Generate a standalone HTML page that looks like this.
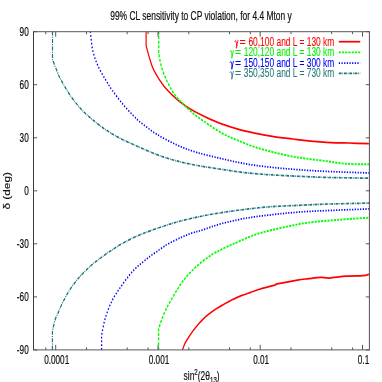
<!DOCTYPE html>
<html><head><meta charset="utf-8"><title>chart</title>
<style>html,body{margin:0;padding:0;background:#fff;}svg{display:block;will-change:transform;}</style></head>
<body>
<svg width="382" height="382" viewBox="0 0 382 382">
<rect width="382" height="382" fill="#fff"/>
<g transform="scale(0.70 1)" fill="none">
<path d="M208.71 31.5 L208.71 45.6 C209.62 47.9 212.24 55.2 214.14 59.4 C216.05 63.6 216.86 66.3 220.14 70.7 C223.43 75.1 228.57 81.1 233.86 85.8 C239.14 90.5 246.79 95.6 251.86 98.9 C256.93 102.2 259.81 103.2 264.29 105.4 C268.76 107.6 273.02 109.6 278.71 111.8 C284.40 114.0 292.14 116.6 298.43 118.6 C304.71 120.6 309.71 122.1 316.43 123.8 C323.14 125.5 330.81 127.3 338.71 128.9 C346.62 130.5 355.48 131.9 363.86 133.2 C372.24 134.4 380.02 135.4 389.00 136.4 C397.98 137.4 409.67 138.3 417.71 139.0 C425.76 139.7 428.05 140.1 437.29 140.7 C446.52 141.3 462.98 142.3 473.14 142.7 C483.31 143.1 489.31 142.8 498.29 143.0 C507.26 143.2 522.21 143.6 527.00 143.7" stroke="#ff0000" stroke-width="1.72"/>
<path d="M260.71 349.8 C261.24 348.8 262.60 345.8 263.86 343.9 C265.12 342.0 266.81 340.3 268.29 338.6 C269.76 336.9 270.98 335.5 272.71 333.8 C274.45 332.1 276.71 330.0 278.71 328.2 C280.71 326.4 282.71 324.7 284.71 323.1 C286.71 321.5 288.71 320.1 290.71 318.7 C292.71 317.3 294.71 316.1 296.71 315.0 C298.71 313.9 300.48 312.9 302.71 311.8 C304.95 310.7 307.64 309.4 310.14 308.3 C312.64 307.2 315.21 306.1 317.71 305.1 C320.21 304.1 322.67 303.1 325.14 302.2 C327.62 301.3 329.33 300.6 332.57 299.5 C335.81 298.4 340.48 296.8 344.57 295.7 C348.67 294.6 352.14 293.8 357.14 292.6 C362.14 291.4 368.67 289.6 374.57 288.4 C380.48 287.1 388.98 285.9 392.57 285.1 C396.17 284.4 390.76 284.7 396.14 283.9 C401.52 283.1 417.31 281.0 424.86 280.1 C432.40 279.2 435.83 279.1 441.43 278.6 C447.02 278.1 453.60 277.4 458.43 277.3 C463.26 277.2 464.43 278.3 470.43 278.1 C476.43 277.9 486.45 276.6 494.43 276.2 C502.40 275.8 512.86 275.9 518.29 275.6 C523.71 275.3 525.55 274.5 527.00 274.3" stroke="#ff0000" stroke-width="1.72"/>
<path d="M226.71 31.5 L226.71 53.1 C227.31 55.2 228.50 61.3 230.29 65.7 C232.07 70.1 234.43 74.9 237.43 79.5 C240.43 84.1 244.40 89.3 248.29 93.3 C252.17 97.3 256.55 100.3 260.71 103.4 C264.88 106.5 268.19 108.8 273.29 111.8 C278.38 114.8 284.05 117.9 291.29 121.4 C298.52 124.9 308.81 129.9 316.71 133.0 C324.62 136.1 330.86 137.9 338.71 140.2 C346.57 142.5 355.48 145.0 363.86 147.0 C372.24 149.0 380.02 150.4 389.00 152.0 C397.98 153.6 409.67 155.4 417.71 156.5 C425.76 157.6 429.24 157.8 437.29 158.6 C445.33 159.4 456.43 160.2 466.00 161.1 C475.57 162.0 484.55 163.3 494.71 163.8 C504.88 164.3 521.62 164.2 527.00 164.3" stroke="#00ff00" stroke-width="1.9" stroke-dasharray="3.0 1.6"/>
<path d="M226.57 349.8 L226.57 329.1 C227.26 327.6 229.02 323.2 230.71 320.0 C232.40 316.8 234.48 313.3 236.71 310.0 C238.95 306.7 241.40 303.6 244.14 300.2 C246.88 296.8 250.14 293.0 253.14 289.7 C256.14 286.4 258.64 283.4 262.14 280.3 C265.64 277.2 269.64 274.0 274.14 270.8 C278.64 267.6 284.17 264.2 289.14 261.4 C294.12 258.6 299.52 256.1 304.00 254.1 C308.48 252.1 311.90 251.1 316.00 249.6 C320.10 248.1 324.79 246.5 328.57 245.3 C332.36 244.1 332.83 244.1 338.71 242.3 C344.60 240.6 355.48 236.9 363.86 234.8 C372.24 232.7 380.02 231.5 389.00 229.9 C397.98 228.3 409.67 226.7 417.71 225.5 C425.76 224.3 429.24 223.7 437.29 222.9 C445.33 222.1 456.43 221.4 466.00 220.8 C475.57 220.2 484.55 219.7 494.71 219.2 C504.88 218.7 521.62 217.9 527.00 217.7" stroke="#00ff00" stroke-width="1.9" stroke-dasharray="3.0 1.6"/>
<path d="M129.00 31.5 C129.60 34.7 130.76 44.9 132.57 50.6 C134.38 56.3 136.79 60.8 139.86 65.7 C142.93 70.6 147.55 75.9 151.00 80.0 C154.45 84.1 156.50 86.5 160.57 90.5 C164.64 94.5 170.45 99.9 175.43 104.1 C180.40 108.3 186.07 112.5 190.43 115.6 C194.79 118.7 196.12 119.8 201.57 122.8 C207.02 125.8 214.76 130.2 223.14 133.9 C231.52 137.6 242.29 141.6 251.86 144.7 C261.43 147.8 269.76 150.0 280.57 152.3 C291.38 154.6 304.64 156.7 316.71 158.7 C328.79 160.7 340.95 162.6 353.00 164.1 C365.05 165.6 377.02 166.5 389.00 167.4 C400.98 168.3 412.02 168.9 424.86 169.6 C437.69 170.3 448.98 170.8 466.00 171.4 C483.02 172.0 516.83 172.7 527.00 172.9" stroke="#0000ff" stroke-width="1.75" stroke-dasharray="1.75 2.05"/>
<path d="M145.14 349.8 L145.14 335.4 C146.05 332.5 148.00 323.7 150.57 317.8 C153.14 311.9 156.93 305.1 160.57 300.0 C164.21 294.9 168.45 291.1 172.43 287.0 C176.40 282.9 180.98 278.6 184.43 275.5 C187.88 272.4 190.43 270.6 193.14 268.7 C195.86 266.8 197.95 265.6 200.71 264.0 C203.48 262.4 207.24 260.2 209.71 258.8 C212.19 257.4 213.33 256.8 215.57 255.7 C217.81 254.6 220.64 253.2 223.14 252.0 C225.64 250.8 227.60 249.7 230.57 248.3 C233.55 246.9 236.24 245.4 241.00 243.6 C245.76 241.8 253.62 239.1 259.14 237.3 C264.67 235.6 269.14 234.3 274.14 233.1 C279.14 231.9 282.05 231.6 289.14 230.0 C296.24 228.4 306.07 225.6 316.71 223.6 C327.36 221.6 340.95 219.5 353.00 218.0 C365.05 216.5 377.02 215.7 389.00 214.7 C400.98 213.7 412.02 212.9 424.86 212.2 C437.69 211.5 448.98 211.1 466.00 210.6 C483.02 210.1 516.83 209.2 527.00 208.9" stroke="#0000ff" stroke-width="1.75" stroke-dasharray="1.75 2.05"/>
<path d="M75.00 31.5 L75.00 59.5 C76.52 62.2 82.12 72.4 84.14 75.8 C86.17 79.2 84.38 76.7 87.14 80.0 C89.90 83.3 95.98 90.9 100.71 95.7 C105.45 100.5 110.60 105.1 115.57 108.9 C120.55 112.7 125.57 115.7 130.57 118.7 C135.57 121.7 140.57 124.5 145.57 127.1 C150.57 129.7 155.60 131.9 160.57 134.0 C165.55 136.1 170.45 137.9 175.43 139.7 C180.40 141.4 186.07 143.1 190.43 144.5 C194.79 145.9 195.52 146.2 201.57 148.0 C207.62 149.8 218.33 153.2 226.71 155.3 C235.10 157.4 242.88 159.1 251.86 160.8 C260.83 162.5 269.81 163.9 280.57 165.3 C291.33 166.7 304.36 168.0 316.43 169.3 C328.50 170.6 340.90 172.0 353.00 172.9 C365.10 173.8 377.02 174.4 389.00 174.9 C400.98 175.4 412.02 175.8 424.86 176.2 C437.69 176.6 448.98 177.1 466.00 177.4 C483.02 177.7 516.83 178.1 527.00 178.2" stroke="#17727a" stroke-width="1.65" stroke-dasharray="4 1.3 1 1.2"/>
<path d="M74.86 349.8 L74.86 331.3 C75.50 329.4 77.31 322.9 78.71 319.8 C80.12 316.7 81.79 314.9 83.29 312.5 C84.79 310.1 86.07 307.6 87.71 305.1 C89.36 302.7 91.40 300.1 93.14 297.8 C94.88 295.5 96.31 293.6 98.14 291.5 C99.98 289.4 102.14 287.1 104.14 285.2 C106.14 283.3 108.24 281.6 110.14 280.0 C112.05 278.4 112.17 278.0 115.57 275.5 C118.98 273.0 125.57 268.3 130.57 265.2 C135.57 262.1 140.57 259.6 145.57 257.0 C150.57 254.4 155.60 252.0 160.57 249.7 C165.55 247.4 170.45 245.2 175.43 243.2 C180.40 241.2 186.33 239.2 190.43 237.8 C194.52 236.4 195.76 236.0 200.00 234.8 C204.24 233.6 207.21 232.6 215.86 230.5 C224.50 228.4 239.88 224.6 251.86 222.2 C263.83 219.8 276.90 217.8 287.71 216.2 C298.52 214.6 305.83 213.8 316.71 212.6 C327.60 211.4 340.95 210.1 353.00 209.1 C365.05 208.1 377.02 207.2 389.00 206.6 C400.98 206.0 412.02 205.8 424.86 205.4 C437.69 205.0 448.98 204.5 466.00 204.1 C483.02 203.7 516.83 203.3 527.00 203.1" stroke="#17727a" stroke-width="1.65" stroke-dasharray="4 1.3 1 1.2"/>
<path d="M484.00 41.7H514.57" stroke="#ff0000" stroke-width="1.72"/>
<path d="M484.00 52.4H514.57" stroke="#00ff00" stroke-width="1.9" stroke-dasharray="3.0 1.6"/>
<path d="M484.00 63.1H514.57" stroke="#0000ff" stroke-width="1.75" stroke-dasharray="1.75 2.05"/>
<path d="M484.00 73.4H514.57" stroke="#17727a" stroke-width="1.65" stroke-dasharray="4 1.3 1 1.2"/>
</g>
<g stroke="#555555" stroke-width="1" fill="none">
<path d="M33.0 31.7H369.9M33.0 349.9H369.9" stroke="#585858"/>
<path d="M33.5 31.7V349.9" stroke="#3c3c3c"/><path d="M369.4 31.7V349.9" stroke="#505050"/>
<path d="M33.5 31.7h3.6M369.4 31.7h-3.6M33.5 84.7h3.6M369.4 84.7h-3.6M33.5 137.8h3.6M369.4 137.8h-3.6M33.5 190.8h3.6M369.4 190.8h-3.6M33.5 243.8h3.6M369.4 243.8h-3.6M33.5 296.9h3.6M369.4 296.9h-3.6M33.5 349.9h3.6M369.4 349.9h-3.6M45.8 349.9v-2.5M45.8 31.7v2.5M55.7 349.9v-5.0M55.7 31.7v5.0M86.5 349.9v-2.5M86.5 31.7v2.5M127.2 349.9v-2.5M127.2 31.7v2.5M148.1 349.9v-2.5M148.1 31.7v2.5M158.0 349.9v-5.0M158.0 31.7v5.0M188.8 349.9v-2.5M188.8 31.7v2.5M229.5 349.9v-2.5M229.5 31.7v2.5M250.3 349.9v-2.5M250.3 31.7v2.5M260.2 349.9v-5.0M260.2 31.7v5.0M291.0 349.9v-2.5M291.0 31.7v2.5M331.7 349.9v-2.5M331.7 31.7v2.5M352.6 349.9v-2.5M352.6 31.7v2.5M362.5 349.9v-5.0M362.5 31.7v5.0"/>
</g>
<g font-family="'Liberation Sans', sans-serif">
<text transform="translate(28.7 36.0) scale(0.636 1)" text-anchor="end" fill="#111111" stroke="#111111" stroke-width="0.22" font-size="12.9">90</text>
<text transform="translate(28.7 89.0) scale(0.636 1)" text-anchor="end" fill="#111111" stroke="#111111" stroke-width="0.22" font-size="12.9">60</text>
<text transform="translate(28.7 142.0) scale(0.636 1)" text-anchor="end" fill="#111111" stroke="#111111" stroke-width="0.22" font-size="12.9">30</text>
<text transform="translate(28.7 195.0) scale(0.636 1)" text-anchor="end" fill="#111111" stroke="#111111" stroke-width="0.22" font-size="12.9">0</text>
<text transform="translate(28.7 248.0) scale(0.636 1)" text-anchor="end" fill="#111111" stroke="#111111" stroke-width="0.22" font-size="12.9">-30</text>
<text transform="translate(28.7 301.0) scale(0.636 1)" text-anchor="end" fill="#111111" stroke="#111111" stroke-width="0.22" font-size="12.9">-60</text>
<text transform="translate(28.7 354.0) scale(0.636 1)" text-anchor="end" fill="#111111" stroke="#111111" stroke-width="0.22" font-size="12.9">-90</text>
<text transform="translate(56.7 364.1) scale(0.636 1)" text-anchor="middle" fill="#111111" stroke="#111111" stroke-width="0.22" font-size="12.9">0.0001</text>
<text transform="translate(159.0 364.1) scale(0.636 1)" text-anchor="middle" fill="#111111" stroke="#111111" stroke-width="0.22" font-size="12.9">0.001</text>
<text transform="translate(261.2 364.1) scale(0.636 1)" text-anchor="middle" fill="#111111" stroke="#111111" stroke-width="0.22" font-size="12.9">0.01</text>
<text transform="translate(363.5 364.1) scale(0.636 1)" text-anchor="middle" fill="#111111" stroke="#111111" stroke-width="0.22" font-size="12.9">0.1</text>
<text transform="translate(201.0 20.0) scale(0.650 1)" text-anchor="middle" fill="#111111" stroke="#111111" stroke-width="0.22" font-size="13.0">99% CL sensitivity to CP violation, for 4.4 Mton y</text>
<path transform="translate(234.5 46.0)" d="M0.2 -4.6C0.5 -5.6 1.3 -5.8 1.6 -4.6L2.25 -0.4L3.5 -5.6M2.25 -0.4C2.4 0.8 2.2 2.3 1.9 2.3C1.5 2.3 1.65 0.7 2.25 -0.4" fill="none" stroke="#ff0000" stroke-width="0.85" stroke-linecap="round" stroke-linejoin="round"/>
<text transform="translate(334.3 45.5) scale(0.652 1)" text-anchor="end" fill="#ff0000" stroke="#ff0000" stroke-width="0.1" font-size="12.9"><tspan fill="none" stroke="none">&#947; =</tspan> 60,100 and L = 130 km</text>
<text transform="translate(242.7 45.5) scale(0.820 1)" text-anchor="middle" fill="#ff0000" stroke="#ff0000" stroke-width="0.1" font-size="12.9">=</text>
<path transform="translate(229.9 56.0)" d="M0.2 -4.6C0.5 -5.6 1.3 -5.8 1.6 -4.6L2.25 -0.4L3.5 -5.6M2.25 -0.4C2.4 0.8 2.2 2.3 1.9 2.3C1.5 2.3 1.65 0.7 2.25 -0.4" fill="none" stroke="#00f000" stroke-width="0.85" stroke-linecap="round" stroke-linejoin="round"/>
<text transform="translate(334.3 56.1) scale(0.652 1)" text-anchor="end" fill="#00f000" stroke="#00f000" stroke-width="0.1" font-size="12.9"><tspan fill="none" stroke="none">&#947; =</tspan> 120,120 and L = 130 km</text>
<text transform="translate(238.1 56.1) scale(0.820 1)" text-anchor="middle" fill="#00f000" stroke="#00f000" stroke-width="0.1" font-size="12.9">=</text>
<path transform="translate(229.9 67.0)" d="M0.2 -4.6C0.5 -5.6 1.3 -5.8 1.6 -4.6L2.25 -0.4L3.5 -5.6M2.25 -0.4C2.4 0.8 2.2 2.3 1.9 2.3C1.5 2.3 1.65 0.7 2.25 -0.4" fill="none" stroke="#0000ff" stroke-width="0.85" stroke-linecap="round" stroke-linejoin="round"/>
<text transform="translate(334.3 66.7) scale(0.652 1)" text-anchor="end" fill="#0000ff" stroke="#0000ff" stroke-width="0.1" font-size="12.9"><tspan fill="none" stroke="none">&#947; =</tspan> 150,150 and L = 300 km</text>
<text transform="translate(238.1 66.7) scale(0.820 1)" text-anchor="middle" fill="#0000ff" stroke="#0000ff" stroke-width="0.1" font-size="12.9">=</text>
<path transform="translate(229.9 77.0)" d="M0.2 -4.6C0.5 -5.6 1.3 -5.8 1.6 -4.6L2.25 -0.4L3.5 -5.6M2.25 -0.4C2.4 0.8 2.2 2.3 1.9 2.3C1.5 2.3 1.65 0.7 2.25 -0.4" fill="none" stroke="#2a7a7c" stroke-width="0.85" stroke-linecap="round" stroke-linejoin="round"/>
<text transform="translate(334.3 77.2) scale(0.652 1)" text-anchor="end" fill="#2a7a7c" stroke="#2a7a7c" stroke-width="0.1" font-size="12.9"><tspan fill="none" stroke="none">&#947; =</tspan> 350,350 and L = 730 km</text>
<text transform="translate(238.1 77.2) scale(0.820 1)" text-anchor="middle" fill="#2a7a7c" stroke="#2a7a7c" stroke-width="0.1" font-size="12.9">=</text>
<text transform="translate(201.6 380.3) scale(0.650 1)" text-anchor="middle" fill="#111111" stroke="#111" stroke-width="0.22" font-size="13">sin<tspan dy="-5.2" font-size="9.5">2</tspan><tspan dy="5.2">(2&#952;</tspan><tspan dy="2.4" font-size="9.5">13</tspan><tspan dy="-2.4">)</tspan></text>
<text transform="translate(10.2 190.8) rotate(-90) scale(1 0.79)" text-anchor="middle" fill="#111111" stroke="#111" stroke-width="0.2" font-size="11.8">&#948; (deg)</text>
</g>
</svg>
</body></html>
